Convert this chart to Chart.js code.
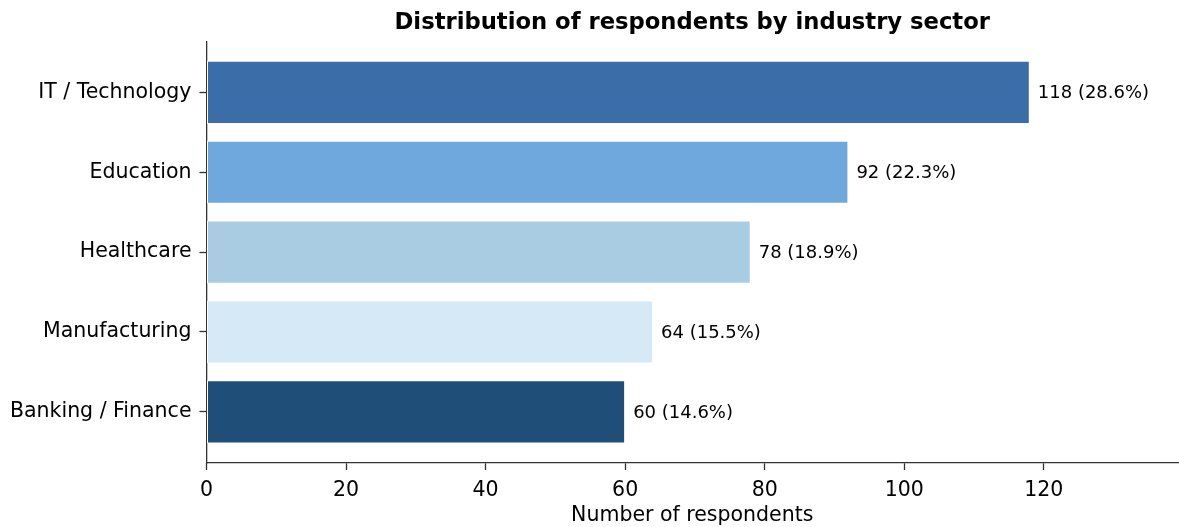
<!DOCTYPE html>
<html><head><meta charset="utf-8">
<script src="https://cdn.jsdelivr.net/npm/chart.js@4.4.0/dist/chart.umd.min.js"></script>
<style>html,body{margin:0;padding:0;background:#fff}#wrap{width:1179px;height:527px;position:relative}</style>
</head><body><div id="wrap"><canvas id="c"></canvas></div>
<script>
const categories = ['IT / Technology', 'Education', 'Healthcare', 'Manufacturing', 'Banking / Finance'];
const respondents = [118, 92, 78, 64, 60];
const percentages = [28.6, 22.3, 18.9, 15.5, 14.6];
const barColors = ['#3b6ea8', '#6fa8dc', '#a9cce3', '#d6e9f7', '#1f4e79'];
const xTickValues = [0, 20, 40, 60, 80, 100, 120];
const xMax = 139.24;

Chart.defaults.font.family = 'DejaVu Sans';
Chart.defaults.color = '#000';

const valueLabels = {
  id: 'valueLabels',
  afterDatasetsDraw(chart) {
    const ctx = chart.ctx;
    const meta = chart.getDatasetMeta(0);
    ctx.save();
    ctx.font = '18px "DejaVu Sans"';
    ctx.fillStyle = '#000';
    ctx.textAlign = 'left';
    ctx.textBaseline = 'middle';
    meta.data.forEach((bar, i) => {
      ctx.fillText(respondents[i] + ' (' + percentages[i].toFixed(1) + '%)', bar.x + 8, bar.y + 1);
    });
    ctx.restore();
  }
};

new Chart(document.getElementById('c'), {
  type: 'bar',
  data: {
    datasets: [{
      data: respondents.map((v, i) => ({ x: v, y: i })),
      backgroundColor: barColors,
      borderColor: '#ffffff',
      borderWidth: 1,
      borderSkipped: false,
      categoryPercentage: 1,
      barPercentage: 0.79
    }]
  },
  options: {
    indexAxis: 'y',
    responsive: true,
    maintainAspectRatio: false,
    animation: false,
    layout: { padding: { left: 0, right: 1, top: 0, bottom: 0 } },
    plugins: {
      legend: { display: false },
      tooltip: { enabled: false },
      title: {
        display: true,
        fullSize: false,
        text: 'Distribution of respondents by industry sector',
        font: { size: 22.7, weight: 'bold', family: 'DejaVu Sans' },
        color: '#000',
        padding: { top: 9, bottom: 5 }
      }
    },
    scales: {
      x: {
        type: 'linear',
        min: 0,
        max: xMax,
        afterBuildTicks: (s) => { s.ticks = xTickValues.map(v => ({ value: v })); },
        afterFit: (s) => { s.height = 64; },
        grid: { drawOnChartArea: false, drawTicks: true, tickLength: 7, tickColor: '#333', tickWidth: 1.3 },
        border: { display: true, color: '#333', width: 1.3 },
        ticks: { font: { size: 20.5 }, color: '#000', padding: 8, maxRotation: 0 },
        title: { display: true, text: 'Number of respondents', font: { size: 20.5 }, color: '#000', padding: { top: 4, bottom: -1 } }
      },
      y: {
        type: 'linear',
        reverse: true,
        offset: false,
        min: -0.64,
        max: 4.64,
        afterBuildTicks: (s) => { s.ticks = categories.map((c, i) => ({ value: i })); },
        afterFit: (s) => { s.width = 206.5; },
        grid: { offset: false, drawOnChartArea: false, drawTicks: true, tickLength: 7, tickColor: '#333', tickWidth: 1.3 },
        border: { display: true, color: '#333', width: 1.3 },
        ticks: { font: { size: 20.5 }, color: '#000', padding: 8, callback: (v) => categories[v] }
      }
    }
  },
  plugins: [valueLabels]
});
</script>
</body></html>
